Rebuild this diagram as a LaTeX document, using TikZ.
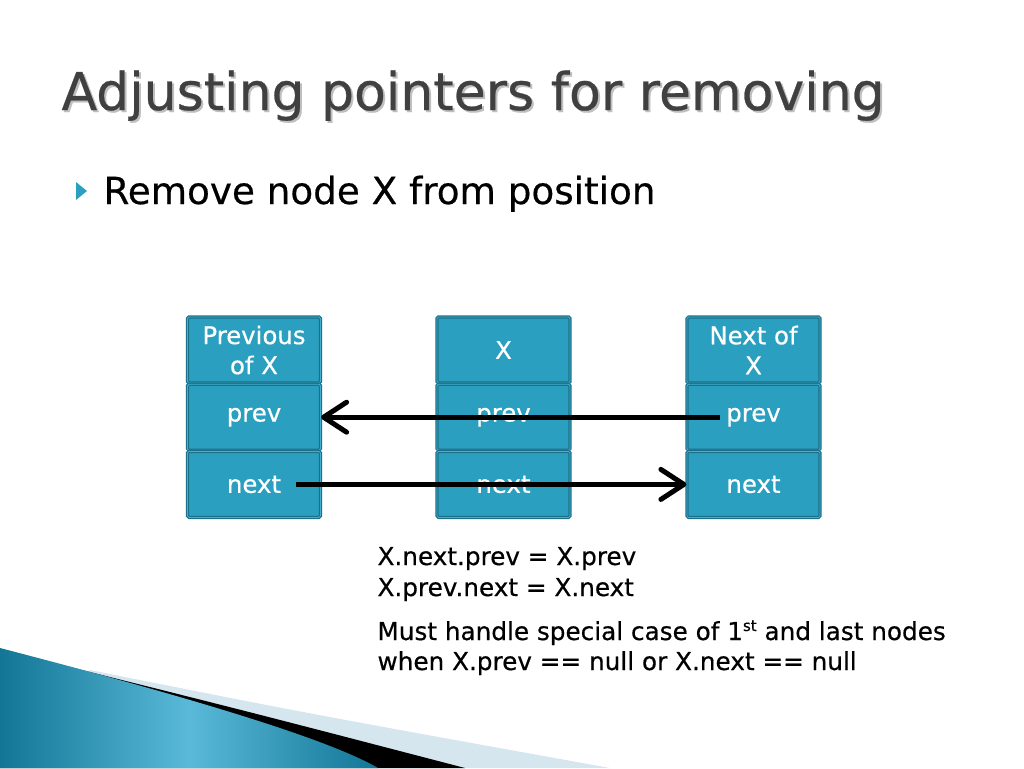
\documentclass[tikz,border=0pt]{standalone}
\usepackage{fontspec}
\setmainfont{DejaVu Sans}[UprightFeatures={FakeBold=0.5}]
\usetikzlibrary{positioning,arrows.meta}
\definecolor{cellfill}{RGB}{43,159,191}
\definecolor{cellborder}{RGB}{28,112,138}
\definecolor{cellline}{RGB}{70,175,205}
\definecolor{titlegray}{RGB}{64,64,64}
\definecolor{tealdark}{RGB}{18,118,150}
\definecolor{teallight}{RGB}{90,185,216}
\definecolor{paleblue}{RGB}{214,230,238}
\tikzset{
  cell/.style={rectangle,fill=cellfill,draw=cellborder,double=cellline,
    double distance=0.8pt,line width=1.2pt,rounded corners=1.5pt,
    minimum width=133pt,minimum height=66pt,inner sep=0pt,
    text=white,font=\fontsize{24.4}{30}\selectfont,align=center},
  ptr/.style={line width=5pt,-{Straight Barb[round,length=23pt,width=30pt]}},
  body/.style={anchor=base west,font=\fontsize{24.7}{30}\selectfont}
}
\newcommand{\supst}[1]{\raisebox{9pt}{\fontsize{15}{15}\selectfont #1}}
\begin{document}
\begin{tikzpicture}[x=1pt,y=-1pt]
\useasboundingbox (0,0) rectangle (1024,768);
% decoration at the bottom left
\fill[paleblue] (90,670) .. controls (300,712) .. (610,768) -- (0,768) -- cycle;
\fill[black] (50,662) .. controls (250,712) .. (465,768) -- (0,768) -- cycle;
\shade[left color=tealdark,right color=tealdark,middle color=teallight]
  (0,648) .. controls (200,700) and (330,740) .. (378,768) -- (0,768) -- cycle;
% title and bullet
\node[anchor=base west,text=black!25,font=\fontsize{52}{60}\selectfont] at (60,112) {Adjusting pointers for removing};
\node (title) [anchor=base west,text=titlegray,font=\fontsize{52}{60}\selectfont] at (58,110) {Adjusting pointers for removing};
\fill[cellfill] (76,182) -- (87,191) -- (76,200) -- cycle;
\node (bullet) [anchor=base west,font=\fontsize{37.3}{44}\selectfont] at (100,204) {Remove node X from position};
% the three list nodes
\node (phead) [cell] at (254,350) {Previous\\of X};
\node (pprev) [cell,below=0pt of phead] {prev};
\node (pnext) [cell,below=0pt of pprev] {next};
\node (xhead) [cell] at (503.5,350) {X};
\node (xprev) [cell,below=0pt of xhead] {prev};
\node (xnext) [cell,below=0pt of xprev] {next};
\node (nhead) [cell] at (753.5,350) {Next of\\X};
\node (nprev) [cell,below=0pt of nhead] {prev};
\node (nnext) [cell,below=0pt of nprev] {next};
% pointers
\coordinate (nfrom) at ([xshift=34pt]nprev.west);
\coordinate (pfrom) at ([xshift=-25pt]pnext.east);
\draw[ptr] (nfrom) -- (pprev.east);
\draw[ptr] (pfrom) -- (nnext.west);
% notes
\node (eq1) [body] at (374,565) {X.next.prev = X.prev};
\node (eq2) [body] at (374,596) {X.prev.next = X.next};
\node (note1) [body] at (374,640) {Must handle special case of 1\supst{st} and last nodes};
\node (note2) [body] at (374,670) {when X.prev == null or X.next == null};
\end{tikzpicture}
\end{document}
